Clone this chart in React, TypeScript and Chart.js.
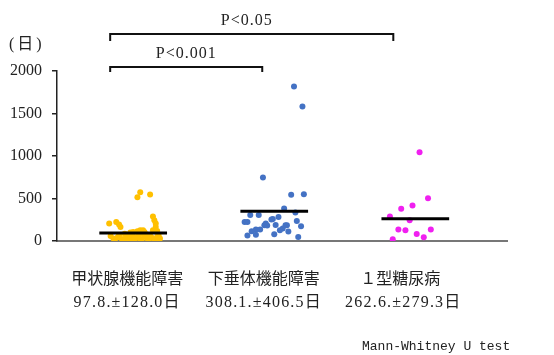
import React, { useEffect, useRef } from "react";
import Chart from "chart.js/auto";

// ---- data ----
const categories = ["甲状腺機能障害", "下垂体機能障害", "１型糖尿病"];
const statLabels = ["97.8.±128.0日", "308.1.±406.5日", "262.6.±279.3日"];
const groupMeans = [95, 350, 263];
const colors = ["#FFC000", "#4472C4", "#F020F0"];

const yellowX = [1.05, 1.12, 1.03, 1.14, 1.15, 0.83, 0.88, 0.9, 0.91, 1.16, 1.16, 1.14, 1.17, 1.05, 1.07, 1.03, 1.08, 0.98, 1.0, 1.19, 1.18,
  0.84, 0.86, 0.87, 0.89, 0.9, 0.92, 0.93, 0.95, 0.96, 0.97, 0.99, 1.0, 1.01, 1.02, 1.04, 1.05, 1.06, 1.08, 1.09, 1.1, 1.11, 1.12, 1.13, 1.15, 1.17, 1.18, 0.94, 1.07];
const yellowY = [575, 548, 516, 288, 244, 205, 224, 194, 165, 205, 165, 126, 118, 126, 126, 114, 106, 99, 106, 28, 67,
  60, 30, 15, 45, 70, 25, 10, 50, 30, 75, 20, 55, 8, 40, 65, 25, 12, 50, 80, 30, 15, 60, 40, 20, 50, 10, 85, 90];

const blueX = [2.14, 2.2, 1.92, 2.12, 2.21, 2.07, 2.15, 1.83, 1.89, 1.79, 1.81, 1.99, 1.98, 2.03, 2.16, 1.94, 1.93, 1.95, 2.01, 2.08, 2.09, 2.19, 2.06, 1.87, 1.9, 1.84, 2.04, 2.1, 2.0, 1.81, 1.87, 2.17];
const blueY = [1817, 1581, 748, 543, 551, 382, 335, 307, 307, 224, 224, 260, 252, 283, 236, 205, 185, 182, 189, 185, 185, 173, 146, 134, 134, 114, 126, 111, 79, 64, 75, 47];

const magentaX = [3.03, 3.09, 2.98, 2.9, 2.82, 2.96, 2.88, 2.93, 3.11, 3.01, 3.06, 2.84];
const magentaY = [1043, 504, 418, 378, 288, 244, 134, 126, 134, 83, 44, 20];

const yTicks = [0, 500, 1000, 1500, 2000];
const unitLabel = "(日)";
const bracketFrom = [1, 1];
const bracketTo = [3, 2];
const bracketLabels = ["P<0.05", "P<0.001"];
const footnote = "Mann-Whitney U test";

const SERIF = "'Liberation Serif', 'Noto Sans CJK JP', serif";

const toPts = (xs: number[], ys: number[]) => xs.map((x, i) => ({ x, y: ys[i] }));

const annotations = {
  id: "annotations",
  afterDraw(chart: any) {
    const { ctx, chartArea } = chart;
    const x = chart.scales.x;
    ctx.save();
    ctx.fillStyle = "#222";
    ctx.strokeStyle = "#111";
    ctx.font = `16px ${SERIF}`;
    ctx.textBaseline = "middle";
    ctx.textAlign = "left";
    (ctx as any).letterSpacing = "3px";
    ctx.fillText(unitLabel, 9, 45);
    (ctx as any).letterSpacing = "0px";

    // significance brackets
    const levels = [chartArea.top - 37, chartArea.top - 4];
    const drops = [7, 5];
    const endShift = (v: number) => (v === 2 ? 12 : 22);
    bracketFrom.forEach((from, i) => {
      const x1 = x.getPixelForValue(from) - 23;
      const x2 = x.getPixelForValue(bracketTo[i]) - endShift(bracketTo[i]);
      const yy = levels[i];
      ctx.lineWidth = 2;
      ctx.beginPath();
      ctx.moveTo(x1, yy + drops[i]);
      ctx.lineTo(x1, yy);
      ctx.lineTo(x2, yy);
      ctx.lineTo(x2, yy + drops[i]);
      ctx.stroke();
      ctx.textAlign = "center";
      (ctx as any).letterSpacing = "1px";
      ctx.fillText(bracketLabels[i], (x1 + x2) / 2 - (i === 0 ? 5 : 0), yy - 13);
      (ctx as any).letterSpacing = "0px";
    });

    // category labels
    ctx.textAlign = "center";
    categories.forEach((c, i) => {
      const cx = x.getPixelForValue(i + 1) - 6 - i * 4.5;
      ctx.font = `16px ${SERIF}`;
      ctx.fillText(c, cx, chartArea.bottom + 39);
      (ctx as any).letterSpacing = "1.2px";
      ctx.fillText(statLabels[i], cx + (i === 2 ? 3 : 0), chartArea.bottom + 62);
      (ctx as any).letterSpacing = "0px";
    });

    ctx.font = "13px 'Liberation Mono', monospace";
    ctx.textAlign = "left";
    ctx.fillText(footnote, 362, 347);
    ctx.restore();
  },
};

export default function App() {
  const ref = useRef<HTMLCanvasElement>(null);
  useEffect(() => {
    if (!ref.current) return;
    const meanSets = groupMeans.map((m, i) => ({
      type: "line" as const,
      data: [
        { x: i + 1 - 0.24, y: m },
        { x: i + 1 + 0.24, y: m },
      ],
      borderColor: "#000",
      borderWidth: 3,
      pointRadius: 0,
      order: 0,
    }));
    const pointSets = [
      toPts(yellowX, yellowY),
      toPts(blueX, blueY),
      toPts(magentaX, magentaY),
    ].map((d, i) => ({
      type: "scatter" as const,
      data: d,
      backgroundColor: colors[i],
      borderWidth: 0,
      pointRadius: 3,
      order: 1,
    }));
    const chart = new Chart(ref.current, {
      type: "scatter",
      data: { datasets: [...meanSets, ...pointSets] as any },
      options: {
        responsive: false,
        animation: false,
        layout: { padding: { top: 71, right: 47, left: 0, bottom: 0 } },
        plugins: { legend: { display: false }, tooltip: { enabled: false } },
        scales: {
          x: {
            type: "linear",
            min: 0.46,
            max: 3.65,
            ticks: { display: false },
            grid: { display: false },
            border: { display: true, color: "#777", width: 2 },
            afterFit: (s: any) => {
              s.height = 114;
            },
          },
          y: {
            min: 0,
            max: 2000,
            afterBuildTicks: (s: any) => {
              s.ticks = yTicks.map((v) => ({ value: v }));
            },
            ticks: {
              color: "#222",
              font: { family: SERIF, size: 16 },
              padding: 10,
              callback: (v: any) => String(v),
            },
            grid: { drawOnChartArea: false, tickLength: 5, color: "#222", lineWidth: 1.5 },
            border: { display: true, color: "#222", width: 1.5 },
            afterFit: (s: any) => {
              s.width = 57;
            },
          },
        },
      },
      plugins: [annotations],
    });
    return () => chart.destroy();
  }, []);
  return (
    <div style={{ position: "absolute", left: 0, top: 0, width: 554, height: 355, background: "#fff" }}>
      <canvas ref={ref} width={554} height={355} style={{ display: "block" }} />
    </div>
  );
}
